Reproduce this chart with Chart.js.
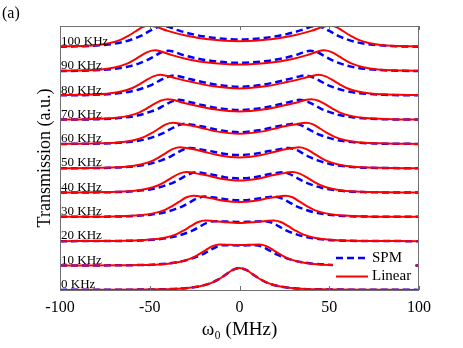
<!DOCTYPE html>
<html><head><meta charset="utf-8">
<script src="https://cdn.jsdelivr.net/npm/chart.js@4.4.1/dist/chart.umd.min.js"></script>
<style>html,body{margin:0;padding:0;background:#fff;}#wrap{width:463px;height:348px;}</style>
</head><body><div id="wrap"><canvas id="c" width="463" height="348"></canvas></div>
<script>
// ---- data (heights above each trace's baseline, a.u.) ----
const freqLabels = ['0 KHz','10 KHz','20 KHz','30 KHz','40 KHz','50 KHz','60 KHz','70 KHz','80 KHz','90 KHz','100 KHz'];
const xTicks = [-100, -50, 0, 50, 100];
const seriesNames = ['SPM', 'Linear'];

const linear0 = [[-100,.005],[-45,.03],[-30,.08],[-22,.17],[-16,.31],[-12,.47],[-8,.68],[-4,.9],[0,1.0],[4,.9],[8,.68],[12,.47],[16,.31],[22,.17],[30,.08],[45,.03],[100,.005]];
const spm0 = [[-100,.005],[-45,.03],[-30,.08],[-22,.17],[-16,.31],[-12,.47],[-8,.68],[-4,.9],[0,1.0],[4,.9],[8,.68],[12,.47],[16,.31],[22,.17],[30,.08],[45,.03],[100,.005]];

const linear10 = [[-100,.01],[-56,.03],[-41,.08],[-33,.18],[-27,.33],[-23,.5],[-19,.7],[-15,.89],[-11,.96],[-5,.95],[0,.94],[5,.95],[11,.96],[15,.89],[19,.7],[23,.5],[27,.33],[33,.18],[41,.08],[56,.03],[100,.01]];
const spm10 = [[-100,.01],[-54,.03],[-39,.11],[-31,.22],[-25,.37],[-21,.5],[-17,.68],[-13,.85],[-9,.93],[0,.92],[9,.93],[13,.85],[17,.68],[21,.5],[25,.37],[31,.22],[39,.11],[54,.03],[100,.01]];

const linear20 = [[-100,.01],[-64,.03],[-49,.08],[-41,.18],[-35,.33],[-31,.5],[-27,.7],[-23,.88],[-19,.95],[-15,.93],[-9,.88],[0,.83],[9,.88],[15,.93],[19,.95],[23,.88],[27,.7],[31,.5],[35,.33],[41,.18],[49,.08],[64,.03],[100,.01]];
const spm20 = [[-100,.01],[-59,.03],[-44,.11],[-36,.22],[-30,.37],[-26,.5],[-22,.68],[-18,.85],[-14,.92],[-7,.9],[0,.88],[7,.9],[14,.92],[18,.85],[22,.68],[26,.5],[30,.37],[36,.22],[44,.11],[59,.03],[100,.01]];

const linear30 = [[-100,.01],[-70.5,.03],[-55.5,.08],[-47.5,.18],[-41.5,.33],[-37.5,.5],[-33.5,.7],[-29.5,.9],[-25.5,.97],[-23.7,.96],[-20.4,.92],[-15.3,.85],[-8.9,.74],[0,.68],[8.9,.74],[15.3,.85],[20.4,.92],[23.7,.96],[25.5,.97],[29.5,.9],[33.5,.7],[37.5,.5],[41.5,.33],[47.5,.18],[55.5,.08],[70.5,.03],[100,.01]];
const spm30 = [[-100,.01],[-64.5,.03],[-49.5,.11],[-41.5,.22],[-35.5,.37],[-31.5,.5],[-27.5,.68],[-23.5,.85],[-19.5,.93],[-15.6,.9],[-11.7,.86],[-6.8,.8],[0,.76],[6.8,.8],[11.7,.86],[15.6,.9],[19.5,.93],[23.5,.85],[27.5,.68],[31.5,.5],[35.5,.37],[41.5,.22],[49.5,.11],[64.5,.03],[100,.01]];

const linear40 = [[-100,.01],[-74.5,.03],[-59.5,.08],[-51.5,.18],[-45.5,.33],[-41.5,.5],[-37.5,.7],[-33.5,.87],[-29.5,.94],[-27.4,.93],[-23.6,.87],[-17.7,.78],[-10.3,.64],[0,.56],[10.3,.64],[17.7,.78],[23.6,.87],[27.4,.93],[29.5,.94],[33.5,.87],[37.5,.7],[41.5,.5],[45.5,.33],[51.5,.18],[59.5,.08],[74.5,.03],[100,.01]];
const spm40 = [[-100,.01],[-69,.03],[-54,.11],[-46,.22],[-40,.37],[-36,.5],[-32,.68],[-28,.85],[-24,.93],[-22.3,.92],[-19.2,.88],[-14.4,.81],[-8.4,.71],[0,.65],[8.4,.71],[14.4,.81],[19.2,.88],[22.3,.92],[24,.93],[28,.85],[32,.68],[36,.5],[40,.37],[46,.22],[54,.11],[69,.03],[100,.01]];

const linear50 = [[-100,.01],[-78,.03],[-63,.08],[-55,.18],[-49,.33],[-45,.5],[-41,.7],[-37,.89],[-33,.96],[-30.7,.94],[-26.4,.88],[-19.8,.76],[-11.6,.6],[0,.5],[11.6,.6],[19.8,.76],[26.4,.88],[30.7,.94],[33,.96],[37,.89],[41,.7],[45,.5],[49,.33],[55,.18],[63,.08],[78,.03],[100,.01]];
const spm50 = [[-100,.01],[-72.5,.03],[-57.5,.11],[-49.5,.22],[-43.5,.37],[-39.5,.5],[-35.5,.68],[-31.5,.85],[-27.5,.93],[-25.6,.92],[-22,.87],[-16.5,.79],[-9.6,.68],[0,.61],[9.6,.68],[16.5,.79],[22,.87],[25.6,.92],[27.5,.93],[31.5,.85],[35.5,.68],[39.5,.5],[43.5,.37],[49.5,.22],[57.5,.11],[72.5,.03],[100,.01]];

const linear60 = [[-100,.01],[-82,.03],[-67,.08],[-59,.18],[-53,.33],[-49,.5],[-45,.7],[-41,.9],[-37,.97],[-34.4,.95],[-29.6,.88],[-22.2,.76],[-13,.58],[0,.47],[13,.58],[22.2,.76],[29.6,.88],[34.4,.95],[37,.97],[41,.9],[45,.7],[49,.5],[53,.33],[59,.18],[67,.08],[82,.03],[100,.01]];
const spm60 = [[-100,.01],[-75.5,.03],[-60.5,.11],[-52.5,.22],[-46.5,.37],[-42.5,.5],[-38.5,.68],[-34.5,.85],[-30.5,.93],[-28.4,.91],[-24.4,.86],[-18.3,.76],[-10.7,.63],[0,.54],[10.7,.63],[18.3,.76],[24.4,.86],[28.4,.91],[30.5,.93],[34.5,.85],[38.5,.68],[42.5,.5],[46.5,.37],[52.5,.22],[60.5,.11],[75.5,.03],[100,.01]];

const linear70 = [[-100,.01],[-85,.03],[-70,.08],[-62,.18],[-56,.33],[-52,.5],[-48,.7],[-44,.87],[-40,.94],[-37.2,.91],[-32,.79],[-24,.64],[-14,.48],[0,.38],[14,.48],[24,.64],[32,.79],[37.2,.91],[40,.94],[44,.87],[48,.7],[52,.5],[56,.33],[62,.18],[70,.08],[85,.03],[100,.01]];
const spm70 = [[-100,.01],[-78.5,.03],[-63.5,.11],[-55.5,.22],[-49.5,.37],[-45.5,.5],[-41.5,.68],[-37.5,.84],[-33.5,.91],[-31.2,.88],[-26.8,.79],[-20.1,.66],[-11.7,.53],[0,.45],[11.7,.53],[20.1,.66],[26.8,.79],[31.2,.88],[33.5,.91],[37.5,.84],[41.5,.68],[45.5,.5],[49.5,.37],[55.5,.22],[63.5,.11],[78.5,.03],[100,.01]];

const linear80 = [[-100,.02],[-89,.03],[-74,.08],[-66,.18],[-60,.33],[-56,.5],[-52,.7],[-48,.87],[-44,.94],[-40.9,.9],[-35.2,.78],[-26.4,.61],[-15.4,.43],[0,.32],[15.4,.43],[26.4,.61],[35.2,.78],[40.9,.9],[44,.94],[48,.87],[52,.7],[56,.5],[60,.33],[66,.18],[74,.08],[89,.03],[100,.02]];
const spm80 = [[-100,.01],[-81.5,.03],[-66.5,.11],[-58.5,.22],[-52.5,.37],[-48.5,.5],[-44.5,.68],[-40.5,.84],[-36.5,.91],[-33.9,.88],[-29.2,.78],[-21.9,.64],[-12.8,.49],[0,.4],[12.8,.49],[21.9,.64],[29.2,.78],[33.9,.88],[36.5,.91],[40.5,.84],[44.5,.68],[48.5,.5],[52.5,.37],[58.5,.22],[66.5,.11],[81.5,.03],[100,.01]];

const linear90 = [[-100,.02],[-92,.03],[-77,.08],[-69,.18],[-63,.33],[-59,.5],[-55,.7],[-51,.88],[-47,.95],[-43.7,.9],[-37.6,.73],[-28.2,.53],[-16.5,.38],[0,.3],[16.5,.38],[28.2,.53],[37.6,.73],[43.7,.9],[47,.95],[51,.88],[55,.7],[59,.5],[63,.33],[69,.18],[77,.08],[92,.03],[100,.02]];
const spm90 = [[-100,.01],[-84.5,.03],[-69.5,.11],[-61.5,.22],[-55.5,.37],[-51.5,.5],[-47.5,.68],[-43.5,.86],[-39.5,.93],[-36.7,.89],[-31.6,.74],[-23.7,.58],[-13.8,.45],[0,.38],[13.8,.45],[23.7,.58],[31.6,.74],[36.7,.89],[39.5,.93],[43.5,.86],[47.5,.68],[51.5,.5],[55.5,.37],[61.5,.22],[69.5,.11],[84.5,.03],[100,.01]];

const linear100 = [[-100,.02],[-95,.03],[-80,.08],[-72,.18],[-66,.33],[-62,.5],[-58,.7],[-54,.9],[-50,.97],[-46.5,.91],[-40,.73],[-30,.52],[-17.5,.35],[0,.26],[17.5,.35],[30,.52],[40,.73],[46.5,.91],[50,.97],[54,.9],[58,.7],[62,.5],[66,.33],[72,.18],[80,.08],[95,.03],[100,.02]];
const spm100 = [[-100,.01],[-88,.03],[-73,.11],[-65,.22],[-59,.37],[-55,.5],[-51,.68],[-47,.85],[-43,.97],[-40,.92],[-34.4,.76],[-25.8,.57],[-15,.42],[0,.34],[15,.42],[25.8,.57],[34.4,.76],[40,.92],[43,.97],[47,.85],[51,.68],[55,.5],[59,.37],[65,.22],[73,.11],[88,.03],[100,.01]];

const linearCurves = [linear0, linear10, linear20, linear30, linear40, linear50, linear60, linear70, linear80, linear90, linear100];
const spmCurves = [spm0, spm10, spm20, spm30, spm40, spm50, spm60, spm70, spm80, spm90, spm100];

// ---- presentation ----
const traceOffset = 1.105;
const RED = '#ff0000', BLUE = '#0000ff';
const SERIF = '"Liberation Serif", "Times New Roman", serif';

const datasets = [];
freqLabels.forEach((lab, k) => {
  datasets.push({
    label: seriesNames[0] + ' ' + lab,
    data: spmCurves[k].map(([x, h]) => ({x: x, y: k * traceOffset + h})),
    borderColor: BLUE, borderWidth: 2.5, borderDash: [7, 4],
    pointRadius: 0, fill: false, cubicInterpolationMode: 'monotone', order: 1
  });
  datasets.push({
    label: seriesNames[1] + ' ' + lab,
    data: linearCurves[k].map(([x, h]) => ({x: x, y: k * traceOffset + h})),
    borderColor: RED, borderWidth: 2,
    pointRadius: 0, fill: false, cubicInterpolationMode: 'monotone', order: 0
  });
});

const framePlugin = {
  id: 'frame',
  afterDatasetsDraw(chart) {
    const {ctx, chartArea: a, scales: {x, y}} = chart;
    ctx.save();
    // box
    ctx.strokeStyle = '#707070';
    ctx.lineWidth = 1;
    ctx.strokeRect(a.left + 0.5, a.top + 0.5, a.right - a.left - 1, a.bottom - a.top);
    // inward x ticks at top and bottom
    x.ticks.forEach(t => {
      const px = Math.round(x.getPixelForValue(t.value)) + 0.5;
      ctx.beginPath();
      ctx.moveTo(px, a.bottom); ctx.lineTo(px, a.bottom - 4);
      ctx.moveTo(px, a.top); ctx.lineTo(px, a.top + 4);
      ctx.stroke();
    });
    // trace labels
    ctx.fillStyle = '#000';
    ctx.font = '13px ' + SERIF;
    ctx.textAlign = 'left';
    ctx.textBaseline = 'alphabetic';
    freqLabels.forEach((lab, k) => {
      ctx.fillText(lab, a.left + 1, y.getPixelForValue(k * traceOffset) - 2);
    });
    // legend
    const lx = a.right - 86, ly = a.bottom - 44;
    ctx.fillStyle = '#fff';
    ctx.fillRect(lx, ly, 82, 42);
    const rows = [{name: seriesNames[0], color: BLUE, dash: [7, 4], w: 2.5, yy: ly + 12},
                  {name: seriesNames[1], color: RED, dash: [], w: 2, yy: ly + 30.5}];
    rows.forEach(r => {
      ctx.beginPath();
      ctx.setLineDash(r.dash);
      ctx.strokeStyle = r.color; ctx.lineWidth = r.w;
      ctx.moveTo(lx + 3, r.yy); ctx.lineTo(lx + 35, r.yy);
      ctx.stroke();
      ctx.setLineDash([]);
      ctx.fillStyle = '#000';
      ctx.font = '15px ' + SERIF;
      ctx.textBaseline = 'middle';
      ctx.fillText(r.name, lx + 39, r.yy);
    });
    ctx.restore();
  }
};

new Chart(document.getElementById('c'), {
  type: 'line',
  data: {datasets},
  options: {
    responsive: false, animation: false, devicePixelRatio: 1,
    layout: {padding: {left: 2, right: 44, top: 0, bottom: 0}},
    plugins: {
      legend: {display: false}, tooltip: {enabled: false},
      title: {display: true, text: '(a)', align: 'start', color: '#000',
              font: {family: SERIF, size: 16, weight: 'normal'}, padding: {top: 4, bottom: 2.8}}
    },
    scales: {
      x: {
        type: 'linear', min: -100, max: 100,
        afterBuildTicks: s => { s.ticks = xTicks.map(v => ({value: v})); },
        ticks: {color: '#000', font: {family: SERIF, size: 16}, padding: 8, maxRotation: 0},
        grid: {display: false, drawTicks: false}, border: {display: false},
        title: {display: true, text: 'ω₀ (MHz)', color: '#000', font: {family: SERIF, size: 19},
                padding: {top: 0, bottom: 7}},
        afterFit: s => { s.height = 58; }
      },
      y: {
        min: 0, max: 12,
        ticks: {display: false}, grid: {display: false}, border: {display: false},
        title: {display: true, text: 'Transmission (a.u.)', color: '#000', font: {family: SERIF, size: 18},
                padding: {top: 32, bottom: 0}},
        afterFit: s => { s.width = 58; }
      }
    }
  },
  plugins: [framePlugin]
});
</script>
</body></html>
